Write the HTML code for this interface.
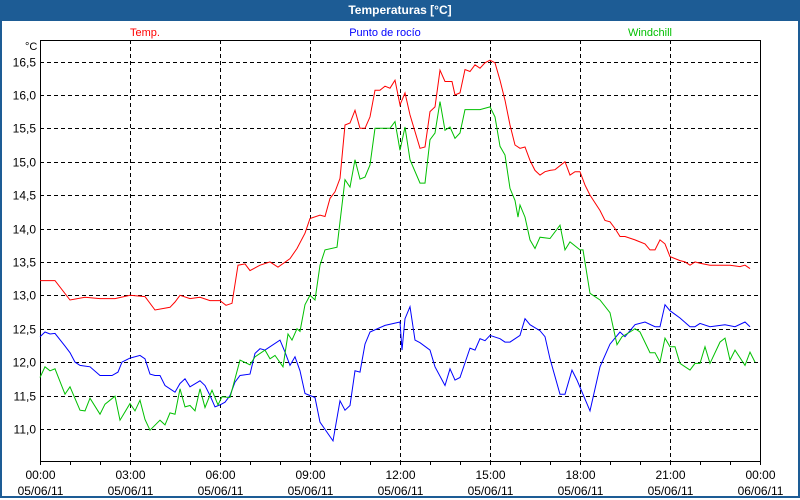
<!DOCTYPE html>
<html><head><meta charset="utf-8"><style>
body{margin:0;width:800px;height:500px;overflow:hidden;background:#fff;font-family:"Liberation Sans",sans-serif}
#win{position:absolute;left:0;top:0;width:796px;height:496px;border:2px solid #1d5c95;border-top:none}
#title{position:absolute;left:0;top:0;width:800px;height:21px;background:#1d5c95;color:#fff;font-weight:bold;font-size:12px;text-align:center;line-height:20px}
</style></head><body>
<div id="win"></div>
<div id="title">Temperaturas [°C]</div>
<svg id="chart" width="800" height="500" style="position:absolute;left:0;top:0"></svg>
<script>
// time arrays are in 20-second units since 00:00 (4320 units per day)
const UNITS_PER_DAY=4320;
const yTicks=[11.0,11.5,12.0,12.5,13.0,13.5,14.0,14.5,15.0,15.5,16.0,16.5];
const xTickHours=[0,3,6,9,12,15,18,21,24];
const xTickLabels=["00:00","03:00","06:00","09:00","12:00","15:00","18:00","21:00","00:00"];
const xDateLabels=["05/06/11","05/06/11","05/06/11","05/06/11","05/06/11","05/06/11","05/06/11","05/06/11","06/06/11"];
const seriesNames=["Temp.","Punto de rocío","Windchill"];
const tempT=[0,90,180,270,360,450,540,630,690,780,810,840,900,960,1020,1080,1116,1152,1188,1230,1260,1320,1380,1428,1500,1542,1590,1620,1680,1710,1740,1770,1800,1830,1860,1890,1920,1950,1980,2010,2040,2070,2100,2130,2160,2190,2220,2280,2310,2340,2370,2400,2430,2472,2490,2520,2550,2580,2610,2640,2670,2700,2730,2760,2790,2820,2850,2880,2910,2940,2970,3000,3030,3060,3090,3150,3180,3210,3240,3270,3300,3360,3390,3420,3450,3480,3510,3570,3630,3660,3690,3720,3750,3780,3840,3870,3900,3930,3960,4020,4080,4140,4200,4230,4260];
const tempVal=[13.22,13.22,12.93,12.97,12.95,12.95,13.0,12.98,12.78,12.82,12.9,13.0,12.95,12.97,12.92,12.92,12.85,12.88,13.45,13.47,13.37,13.45,13.5,13.42,13.55,13.7,13.93,14.15,14.2,14.18,14.45,14.55,14.75,15.55,15.58,15.77,15.5,15.5,15.67,16.07,16.07,16.13,16.1,16.22,15.85,16.03,15.7,15.2,15.22,15.75,15.82,16.37,16.2,16.2,16.0,16.03,16.38,16.35,16.45,16.4,16.48,16.52,16.48,16.22,15.92,15.55,15.25,15.2,15.22,15.02,14.87,14.8,14.85,14.87,14.88,15.0,14.8,14.85,14.85,14.65,14.5,14.27,14.12,14.1,14.0,13.88,13.88,13.83,13.77,13.68,13.68,13.83,13.77,13.58,13.52,13.5,13.45,13.5,13.48,13.45,13.45,13.45,13.43,13.45,13.4];
const dewT=[0,30,60,90,150,180,210,240,300,360,432,468,492,540,600,630,660,690,720,750,810,840,870,900,960,990,1020,1050,1080,1110,1140,1170,1200,1260,1290,1320,1350,1440,1470,1500,1530,1560,1590,1650,1680,1758,1800,1830,1860,1890,1920,1950,1980,2070,2160,2172,2190,2220,2250,2280,2340,2370,2430,2460,2490,2520,2580,2610,2640,2670,2700,2760,2790,2820,2880,2910,2940,3000,3030,3060,3120,3150,3192,3222,3300,3360,3420,3480,3510,3570,3630,3690,3720,3750,3780,3840,3900,3930,3960,4020,4110,4170,4230,4260];
const dewVal=[12.38,12.45,12.42,12.43,12.24,12.14,12.0,11.95,11.93,11.8,11.8,11.85,12.0,12.06,12.1,12.05,11.82,11.8,11.8,11.65,11.55,11.68,11.75,11.63,11.72,11.65,11.5,11.33,11.36,11.4,11.5,11.7,11.8,11.82,12.13,12.2,12.18,12.33,12.15,11.95,12.08,11.87,11.53,11.47,11.1,10.82,11.42,11.28,11.35,11.87,11.85,12.27,12.45,12.55,12.6,12.18,12.65,12.83,12.33,12.29,12.18,11.93,11.65,11.9,11.73,11.77,12.21,12.18,12.35,12.32,12.4,12.35,12.3,12.3,12.4,12.65,12.56,12.47,12.38,12.05,11.52,11.52,11.88,11.73,11.27,11.93,12.27,12.45,12.38,12.56,12.6,12.53,12.53,12.86,12.77,12.66,12.53,12.53,12.58,12.53,12.56,12.53,12.6,12.53];
const windT=[0,30,60,90,150,180,240,270,300,360,390,450,480,540,570,600,630,660,720,750,780,810,840,870,900,930,960,990,1032,1068,1092,1140,1200,1260,1290,1350,1380,1410,1458,1488,1512,1542,1560,1590,1620,1650,1680,1710,1782,1830,1860,1890,1920,1950,1980,2010,2100,2130,2160,2190,2220,2280,2310,2340,2370,2400,2430,2460,2490,2520,2550,2610,2640,2700,2730,2760,2790,2820,2850,2868,2880,2910,2940,2970,3000,3060,3120,3150,3180,3240,3258,3300,3360,3420,3462,3492,3540,3570,3600,3660,3690,3720,3750,3780,3810,3840,3900,3930,3960,3990,4020,4080,4110,4140,4170,4230,4260,4290];
const windVal=[11.77,11.93,11.87,11.9,11.52,11.63,11.28,11.27,11.46,11.22,11.37,11.49,11.13,11.38,11.27,11.43,11.14,10.98,11.13,11.06,11.24,11.22,11.6,11.33,11.35,11.27,11.6,11.32,11.58,11.36,11.48,11.47,12.03,11.96,12.08,12.18,12.05,12.1,11.93,12.42,12.33,12.5,12.46,12.86,13.0,12.93,13.45,13.68,13.72,14.73,14.62,15.03,14.74,14.77,14.95,15.5,15.5,15.6,15.17,15.52,15.03,14.68,14.68,15.33,15.43,15.9,15.47,15.52,15.35,15.43,15.78,15.78,15.78,15.82,15.67,15.23,15.1,14.6,14.42,14.17,14.35,14.17,13.83,13.7,13.87,13.85,14.05,13.68,13.8,13.68,13.68,13.03,12.93,12.74,12.26,12.38,12.45,12.5,12.45,12.14,12.14,12.0,12.36,12.23,12.23,11.98,11.88,11.98,11.98,12.23,11.98,12.3,12.36,12.03,12.18,11.95,12.15,12.0];
const NS="http://www.w3.org/2000/svg";
const svg=document.getElementById('chart');
const L=40,R=760,T=40,B=461;
function xScale(t){return L+t*(R-L)/UNITS_PER_DAY;}
function xHour(h){return L+h*(R-L)/24;}
function yScale(v){return 61.5+(16.5-v)*66.8;}
function mk(tag,attrs){const e=document.createElementNS(NS,tag);for(const k in attrs)e.setAttribute(k,attrs[k]);svg.appendChild(e);return e;}
yTicks.forEach(v=>{const y=Math.round(yScale(v))+0.5;
const g=mk('line',{x1:L,x2:R,y1:y,y2:y,stroke:'#000','stroke-dasharray':'4,3'});


const t=mk('text',{x:36,y:y+4,'text-anchor':'end','font-size':'12','fill':'#000'});


t.textContent=v.toFixed(1).replace('.',',');});
xTickLabels.forEach((lab,i)=>{const x=Math.round(xHour(xTickHours[i]))+0.5;
if(i>0&&i<8){const g=mk('line',{x1:x,x2:x,y1:T,y2:B,stroke:'#000','stroke-dasharray':'4,3'});

}
const t=mk('text',{x:x,y:479,'text-anchor':'middle','font-size':'12','fill':'#000'});


t.textContent=lab;
const d=mk('text',{x:x,y:495,'text-anchor':'middle','font-size':'12','fill':'#000'});


d.textContent=xDateLabels[i];});
for(let h=0;h<=24;h++){const x=Math.round(xHour(h))+0.5;
const tk=mk('line',{x1:x,x2:x,y1:B,y2:B+4,stroke:'#000'});

}
const box=mk('rect',{x:L+0.5,y:T+0.5,width:R-L,height:B-T,fill:'none',stroke:'#000'});


const u=mk('text',{x:25,y:50,'font-size':'11','fill':'#000'});


u.textContent='°C';
const colors=['#ff0000','#0000ff','#00c000'];
const legX=[145,385,650];
seriesNames.forEach((n,i)=>{const t=mk('text',{x:legX[i],y:36,'text-anchor':'middle','font-size':'11','fill':colors[i]});


t.textContent=n;});
function line(ts,vals,c,name){const p=ts.map((m,i)=>xScale(m).toFixed(1)+','+yScale(vals[i]).toFixed(1)).join(' ');
const pl=mk('polyline',{points:p,fill:'none',stroke:c,'stroke-width':'1'});

}
line(tempT,tempVal,colors[0],'temp-line');
line(dewT,dewVal,colors[1],'dewpoint-line');
line(windT,windVal,colors[2],'windchill-line');
</script>
</body></html>
